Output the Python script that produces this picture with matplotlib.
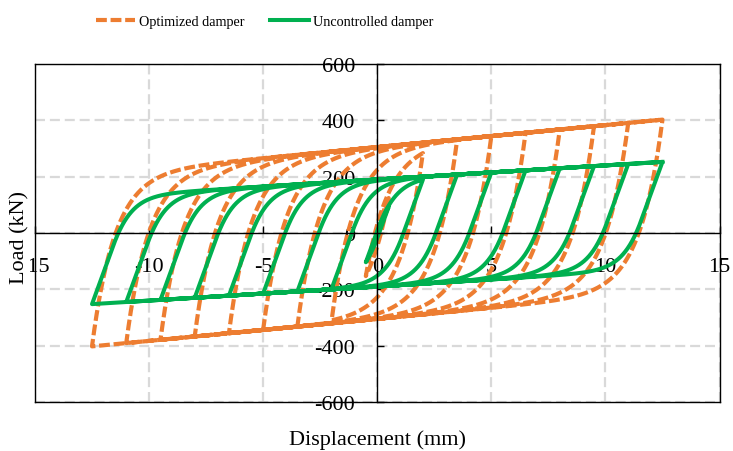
import numpy as np
import matplotlib
matplotlib.use("Agg")
import matplotlib.pyplot as plt

# === Values ===
# cycle amplitudes (mm), same protocol for both dampers
amplitudes = [0.5, 2.0, 3.5, 5.0, 6.5, 8.0, 9.5, 11.0, 12.5]
cycles_per_amp = 1

# hysteresis parameters per series: characteristic force (kN),
# post-yield stiffness (kN/mm), elastic rate (1/mm), knee sharpness
# (knee = 0 -> smooth exponential approach to the post-yield line)
opt_Q, opt_k2, opt_rate, opt_knee = 305.0, 7.8, 1.0, 0
unc_Q, unc_k2, unc_rate, unc_knee = 190.0, 5.0, 1.15, 1.3

x_ticks = [-15, -10, -5, 0, 5, 10, 15]
y_ticks = [-600, -400, -200, 0, 200, 400, 600]

c_opt = "#ED7D31"
c_unc = "#00B050"


def loop_path(amps, Q, k2, rate, knee, cycles=1, step=0.005):
    # displacement history: +A, -A for each cycle, then close outer loop
    targets = []
    for A in amps:
        for _ in range(cycles):
            targets += [A, -A]
    targets.append(amps[-1])

    x, z = 0.0, 0.0
    xs, fs = [0.0], [0.0]
    for t in targets:
        npts = int(abs(t - x) / step) + 2
        for xi in np.linspace(x, t, npts)[1:]:
            dx = xi - x
            sgn = np.sign(dx)
            if knee == 0:
                dz = rate * (1 - z * sgn) * dx
            elif z * dx > 0:
                dz = rate * (1 - abs(z) ** knee) * dx
            else:
                dz = rate * dx
            z = float(np.clip(z + dz, -1, 1))
            x = xi
            xs.append(x)
            fs.append(k2 * x + Q * z)
    return np.array(xs), np.array(fs)


x_opt, f_opt = loop_path(amplitudes, opt_Q, opt_k2, opt_rate, opt_knee, cycles_per_amp)
x_unc, f_unc = loop_path(amplitudes, unc_Q, unc_k2, unc_rate, unc_knee, cycles_per_amp)

plt.rcParams["font.family"] = ["Liberation Serif", "DejaVu Serif"]
plt.rcParams["axes.unicode_minus"] = False

fig = plt.figure(figsize=(7.33, 4.52), dpi=100)
ax = fig.add_axes([0.0477, 0.1084, 0.9339, 0.7478])

# manual grid so it stays under the curves while tick labels stay on top
for gx in x_ticks:
    ax.axvline(gx, color="#D9D9D9", lw=1.6, ls=(0, (4.5, 2.2)), zorder=0.5)
for gy in y_ticks:
    ax.axhline(gy, color="#D9D9D9", lw=1.6, ls=(0, (4.5, 2.2)), zorder=0.5)

ax.plot(x_opt, f_opt, color=c_opt, lw=3.0, ls=(0, (2.6, 0.9)),
        label="Optimized damper", zorder=1.8)
ax.plot(x_unc, f_unc, color=c_unc, lw=2.9, label="Uncontrolled damper",
        zorder=1.9)

ax.set_xlim(-15, 15)
ax.set_ylim(-600, 600)
ax.set_xticks(x_ticks)
ax.set_yticks(y_ticks)
ax.set_xticklabels([str(v) for v in x_ticks])
ax.set_yticklabels([str(v) for v in y_ticks])

# axes crossing at zero, plus an outer frame
ax.spines["left"].set_position(("data", 0))
ax.spines["bottom"].set_position(("data", 0))
for s in ax.spines.values():
    s.set_linewidth(1.0)
    s.set_color("black")
ax.plot([0, 0], [0, 1], transform=ax.transAxes, color="black", lw=1.0,
        clip_on=False, zorder=3)
ax.plot([0, 1], [0, 0], transform=ax.transAxes, color="black", lw=1.0,
        clip_on=False, zorder=3)

ax.tick_params(axis="both", direction="in", length=5, width=1,
               labelsize=16, colors="black")
ax.tick_params(axis="x", pad=17)
ax.tick_params(axis="y", pad=16)

ax.set_xlabel("Displacement (mm)", fontsize=16)
ax.xaxis.set_label_coords(0.5, -0.080)
ax.set_ylabel("Load (kN)", fontsize=16,
              bbox=dict(facecolor="white", edgecolor="none", pad=0.5))
ax.yaxis.set_label_coords(-0.0075, 0.49)

fig.legend(loc="center", bbox_to_anchor=(0.361, 0.95), ncol=2,
           frameon=False, fontsize=10.2, handlelength=2.8,
           handletextpad=0.28, columnspacing=1.75)

fig.savefig("out.png", dpi=100)
